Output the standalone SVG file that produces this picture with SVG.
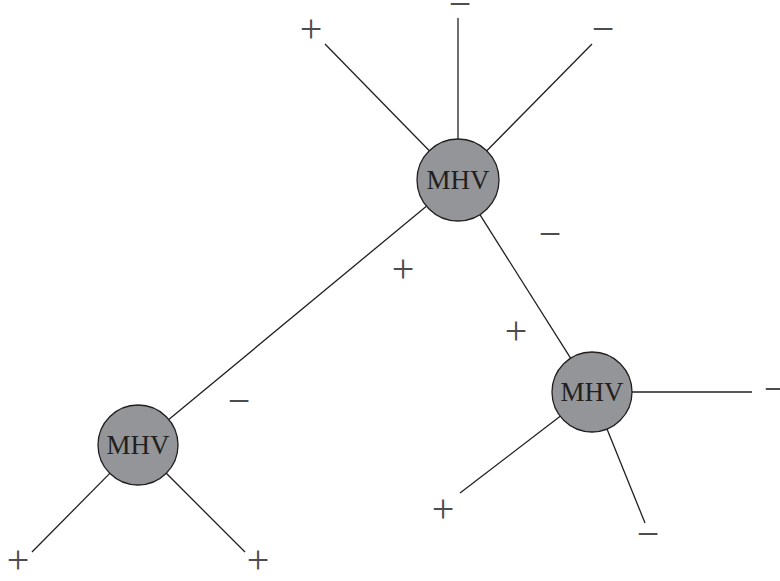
<svg xmlns="http://www.w3.org/2000/svg" width="780" height="581" viewBox="0 0 780 581">
<style>
.n{fill:#939598;stroke:#231f20;stroke-width:1.3}
.t{font-family:"Liberation Serif",serif;font-size:27px;fill:#231f20;text-anchor:middle}
.e{stroke:#231f20;stroke-width:1.3;fill:none}
.s{font-family:"Liberation Serif",serif;font-size:40px;fill:#4d4d4f;text-anchor:middle}
</style>
<rect width="780" height="581" fill="#fff"/>
<g id="connectors">
<line class="e" x1="429.3" y1="150.7" x2="325" y2="44"/>
<line class="e" x1="458" y1="139" x2="458" y2="18"/>
<line class="e" x1="486.8" y1="150.8" x2="592" y2="44"/>
<line class="e" x1="426.4" y1="206.2" x2="168.8" y2="419.5"/>
<line class="e" x1="479.9" y1="214.7" x2="570.6" y2="358.2"/>
<line class="e" x1="632" y1="392" x2="752" y2="392"/>
<line class="e" x1="607" y1="429" x2="645" y2="523"/>
<line class="e" x1="560.2" y1="416.3" x2="460" y2="493"/>
<line class="e" x1="109.8" y1="473.4" x2="32" y2="552"/>
<line class="e" x1="166.3" y1="473.3" x2="245" y2="552"/>
</g>
<g id="signs">
<text class="s" x="311" y="42">+</text>
<text class="s" x="460" y="17">−</text>
<text class="s" x="603" y="42">−</text>
<text class="s" x="403" y="282">+</text>
<text class="s" x="550" y="247">−</text>
<text class="s" x="516" y="344">+</text>
<text class="s" x="775" y="402">−</text>
<text class="s" x="648" y="547">−</text>
<text class="s" x="443" y="522">+</text>
<text class="s" x="239" y="414">−</text>
<text class="s" x="18" y="573">+</text>
<text class="s" x="258" y="573">+</text>
</g>
<g id="node-top">
<circle class="n" cx="458" cy="180" r="41"/>
<text class="t" x="458" y="189">MHV</text>
</g>
<g id="node-right">
<circle class="n" cx="592" cy="392" r="40"/>
<text class="t" x="592" y="401">MHV</text>
</g>
<g id="node-left">
<circle class="n" cx="138" cy="445" r="40"/>
<text class="t" x="138" y="454">MHV</text>
</g>
</svg>
